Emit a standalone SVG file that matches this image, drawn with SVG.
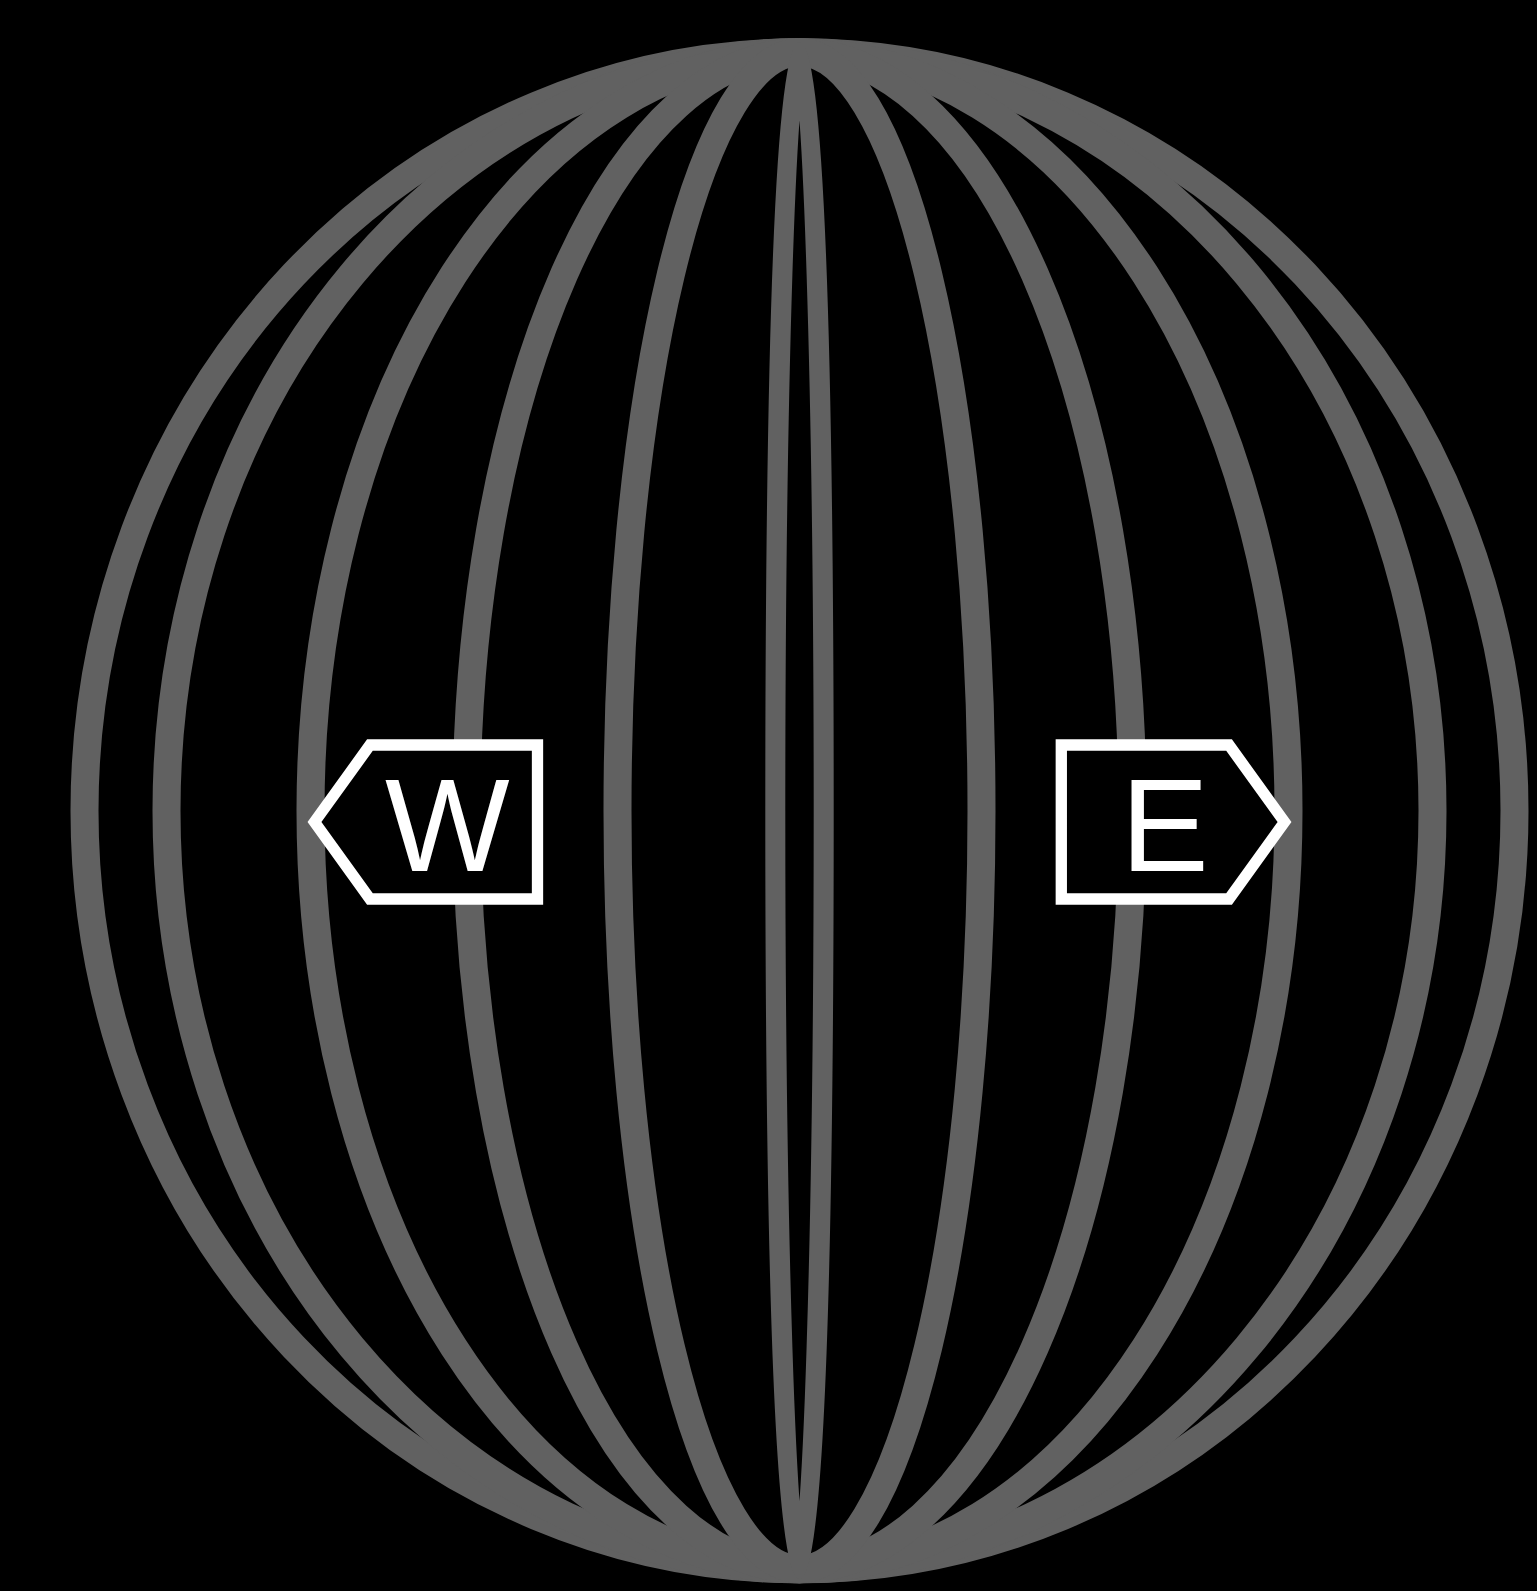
<svg xmlns="http://www.w3.org/2000/svg" width="1537" height="1591" viewBox="0 0 1537 1591">
  <style>
    .meridian { fill: none; stroke: #616161; stroke-width: 28; }
    .thin { stroke-width: 20; }
    .tag { fill: #000000; stroke: #ffffff; stroke-width: 11.3; stroke-linejoin: miter; }
    .label { font-family: "Liberation Sans", Arial, sans-serif; font-size: 132px; fill: #ffffff; text-anchor: middle; }
  </style>
  <rect x="0" y="0" width="1537" height="1591" fill="#000000"/>
  <g id="globe">
    <ellipse class="meridian" cx="799.5" cy="810.8" rx="715" ry="758.5"/>
    <ellipse class="meridian" cx="799.5" cy="810.8" rx="633" ry="758.5"/>
    <ellipse class="meridian" cx="799.5" cy="810.8" rx="489" ry="758.5"/>
    <ellipse class="meridian" cx="799.5" cy="810.8" rx="333" ry="758.5"/>
    <ellipse class="meridian" cx="799.5" cy="810.8" rx="182" ry="758.5"/>
    <ellipse class="meridian thin" cx="799.5" cy="810.8" rx="24.2" ry="758.5"/>
  </g>
  <g id="west">
    <path class="tag" d="M537.5,745 H370 L314.5,822 L370,899 H537.5 Z"/>
    <text class="label" x="447.3" y="871">W</text>
  </g>
  <g id="east">
    <path class="tag" d="M1061.3,745 H1229 L1284.5,822 L1229,899 H1061.3 Z"/>
    <text class="label" x="1164.7" y="871">E</text>
  </g>
</svg>
